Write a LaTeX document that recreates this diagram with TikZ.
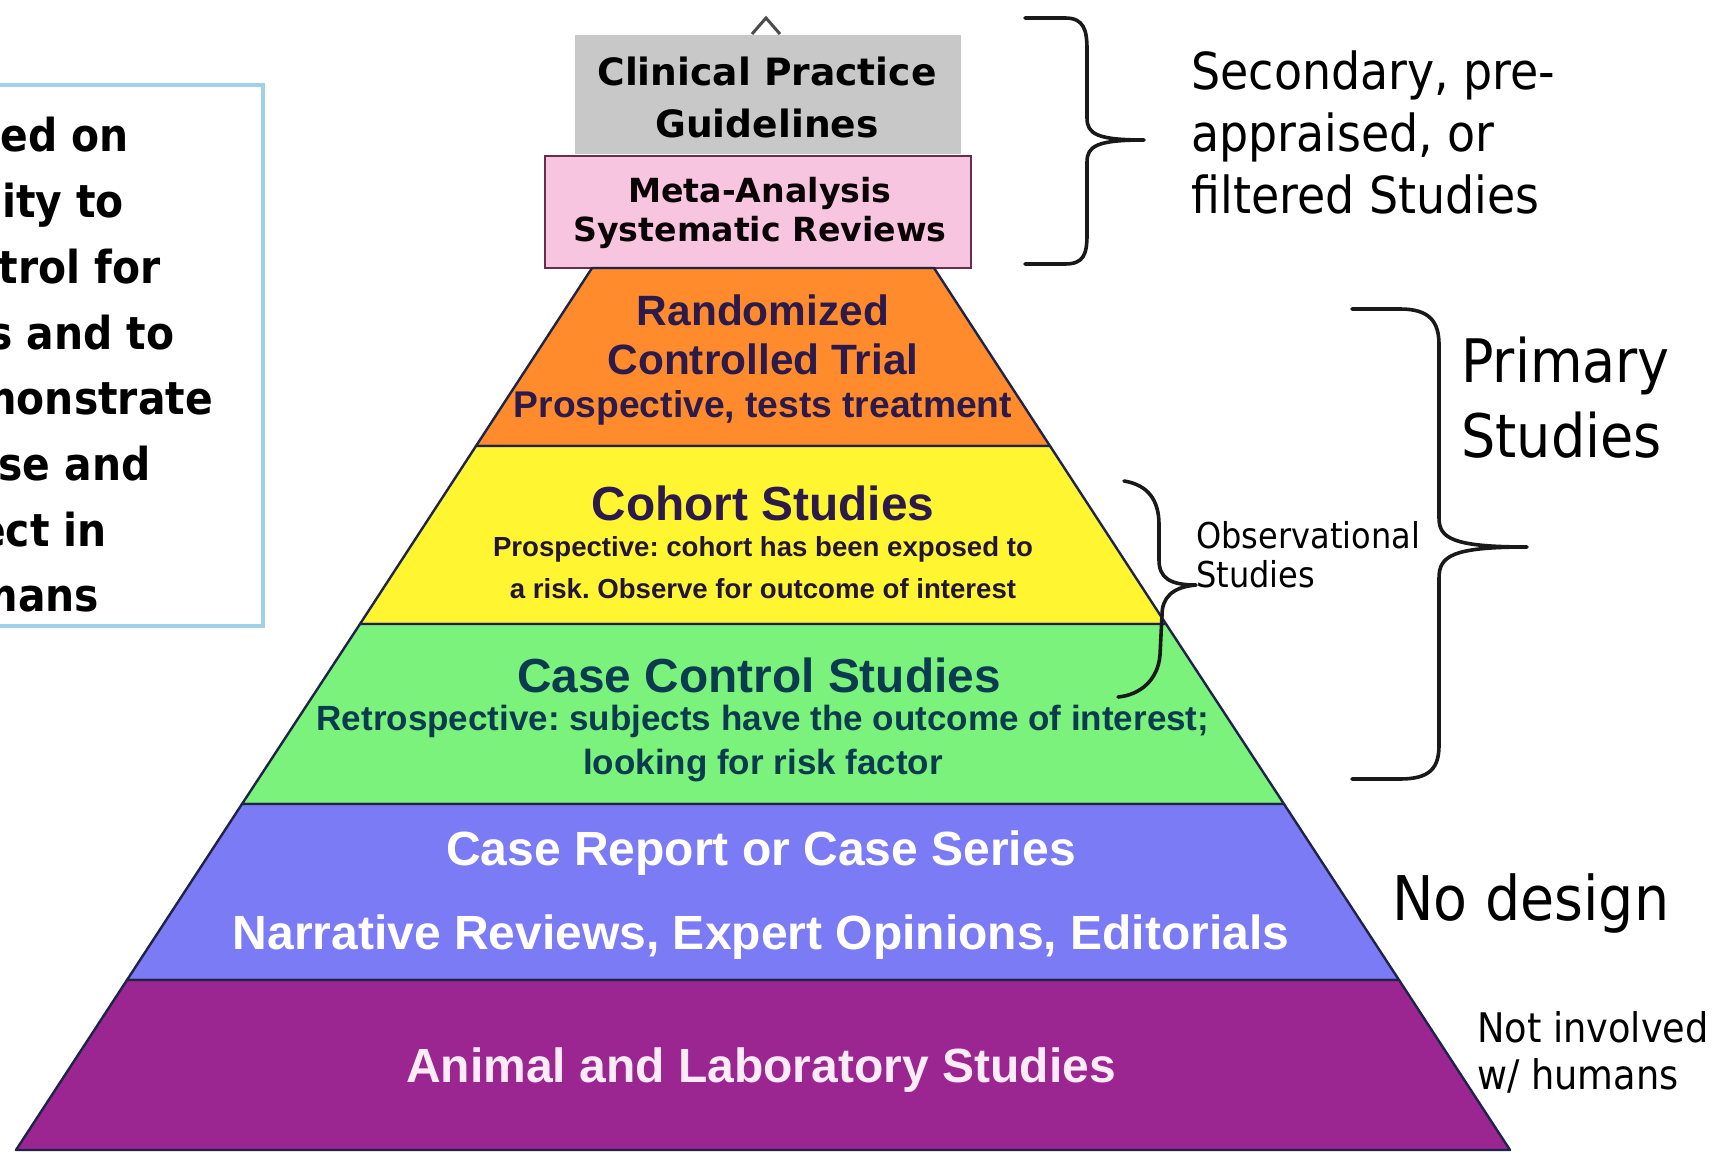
\documentclass[tikz,border=0pt]{standalone}
\usepackage{fontspec}
\setmainfont{DejaVu Sans}
\newfontfamily\condfont{DejaVu Sans Condensed}
\newfontfamily\arialfont{Liberation Sans}
\usepackage{tikz}
\usetikzlibrary{calc}
\frenchspacing

\definecolor{cpggray}{HTML}{C8C8C8}
\definecolor{metapink}{HTML}{F7C5E0}
\definecolor{pinkedge}{HTML}{6B2B4B}
\definecolor{rctorange}{HTML}{FF8B2C}
\definecolor{cohortyellow}{HTML}{FFF531}
\definecolor{ccgreen}{HTML}{7BF27B}
\definecolor{crblue}{HTML}{7B7BF6}
\definecolor{labpurple}{HTML}{9B2591}
\definecolor{layeredge}{HTML}{1E2348}
\definecolor{boxblue}{HTML}{9FD2E8}
\definecolor{rcttext}{HTML}{2B1A4A}
\definecolor{cctext}{HTML}{0B3B4E}

\begin{document}
\begin{tikzpicture}[x=0.5pt,y=-0.5pt,
    layer/.style={draw=layeredge, line width=1.2pt, line join=round},
    ptext/.style={align=center, inner sep=0pt},
    side/.style={align=left, anchor=west, inner sep=0pt, font=\condfont},
    boxline/.style={anchor=base west, inner sep=0pt,
        font=\condfont\bfseries\fontsize{22.7}{30}\selectfont},
    brace/.style={draw=black!90, line width=1.8pt, line cap=round, line join=round}]

    \fill[white] (0,0) rectangle (1716,1154);
    \useasboundingbox (0,0) rectangle (1716,1154);

    \begin{scope}
        \clip (0,0) rectangle (1716,1154);
        \draw[boxblue, line width=1.6pt] (-30,85) rectangle (263,626);
        \foreach \t [count=\i] in {Based on, ability to, control for, bias and to,
            demonstrate, cause and, effect in, humans}
            \node[boxline] (why\i) at (-83,{152+65.7*(\i-1)}) {\t};
    \end{scope}

    \draw[line width=1.5pt, black!70] (752,34) -- (766,18) -- (780,34);
    \fill[cpggray] (575,35) rectangle (961,154);
    \filldraw[fill=metapink, draw=pinkedge, line width=1pt] (545,156) rectangle (971,268);

    \coordinate (L0) at (592,268);
    \coordinate (L1) at (476,446);
    \coordinate (L2) at (360,624);
    \coordinate (L3) at (242,804);
    \coordinate (L4) at (127,980);
    \coordinate (L5) at (16,1150);
    \coordinate (R0) at (934,268);
    \coordinate (R1) at (1050,446);
    \coordinate (R2) at (1166,624);
    \coordinate (R3) at (1284,804);
    \coordinate (R4) at (1399,980);
    \coordinate (R5) at (1510,1150);

    \filldraw[layer, fill=rctorange] (L0) -- (R0) -- (R1) -- (L1) -- cycle;
    \filldraw[layer, fill=cohortyellow] (L1) -- (R1) -- (R2) -- (L2) -- cycle;
    \filldraw[layer, fill=ccgreen] (L2) -- (R2) -- (R3) -- (L3) -- cycle;
    \filldraw[layer, fill=crblue] (L3) -- (R3) -- (R4) -- (L4) -- cycle;
    \filldraw[layer, fill=labpurple] (L4) -- (R4) -- (R5) -- (L5) -- cycle;

    \node[ptext, font=\bfseries\fontsize{18.8}{26}\selectfont] (cpg) at (767,97) {Clinical Practice\\Guidelines};
    \node[ptext, text=black!90!pinkedge, font=\bfseries\fontsize{16.6}{19.5}\selectfont] (meta) at (760,213) {Meta-Analysis\\Systematic Reviews};

    \node[ptext, text=rcttext, font=\arialfont\bfseries\fontsize{21.2}{24.5}\selectfont] (rct) at (763,335) {Randomized\\Controlled Trial};
    \node[ptext, text=rcttext, font=\arialfont\bfseries\fontsize{18.6}{24.5}\selectfont] (rctsub) at (763,408) {Prospective, tests treatment};

    \node[ptext, text=rcttext, font=\arialfont\bfseries\fontsize{23.9}{28}\selectfont] (cohort) at (763,503) {Cohort Studies};
    \node[ptext, text=rcttext!80!black, font=\arialfont\bfseries\fontsize{13.8}{21}\selectfont] (cohortsub) at (763,568) {Prospective: cohort has been exposed to\\a risk. Observe for outcome of interest};

    \node[ptext, text=cctext, font=\arialfont\bfseries\fontsize{23.9}{28}\selectfont] (casectl) at (759,675) {Case Control Studies};
    \node[ptext, text=cctext, font=\arialfont\bfseries\fontsize{17.5}{22}\selectfont] (casectlsub) at (763,744) {Retrospective: subjects have the outcome of interest;\\looking for risk factor};

    \node[ptext, text=white, font=\arialfont\bfseries\fontsize{24}{28}\selectfont] (caserep) at (761,853) {Case Report or Case Series};
    \node[ptext, text=white, font=\arialfont\bfseries\fontsize{24}{28}\selectfont] (narr) at (761,937) {Narrative Reviews, Expert Opinions, Editorials};

    \node[ptext, text=white!92!magenta, font=\arialfont\bfseries\fontsize{24}{28}\selectfont] (animal) at (761,1070) {Animal and Laboratory Studies};

    \draw[brace] (1025,18) -- (1065,18) .. controls (1084,18) and (1087,30) .. (1087,50)
        -- (1087,118) .. controls (1087,134) and (1097,140) .. (1144,140)
        .. controls (1097,140) and (1087,146) .. (1087,162)
        -- (1087,234) .. controls (1087,254) and (1084,264) .. (1065,264) -- (1025,264);

    \draw[brace] (1352,309) -- (1400,309) .. controls (1430,309) and (1439,322) .. (1439,345)
        -- (1439,518) .. controls (1439,538) and (1452,547) .. (1527,547)
        .. controls (1452,547) and (1439,556) .. (1439,578)
        -- (1439,745) .. controls (1439,768) and (1430,779) .. (1400,779) -- (1352,779);

    \draw[brace] (1124,481) .. controls (1148,485) and (1159,500) .. (1159,525)
        -- (1159,560) .. controls (1159,578) and (1170,585) .. (1196,585)
        .. controls (1172,587) and (1162,598) .. (1162,615)
        -- (1160,655) .. controls (1158,680) and (1140,695) .. (1118,697);

    \node[side, font=\condfont\fontsize{25.5}{31}\selectfont] (secondary) at (1191,132) {Secondary, pre-\\appraised, or\\filtered Studies};
    \node[side, font=\condfont\fontsize{30}{37.5}\selectfont] (primary) at (1461,398) {Primary\\Studies};
    \node[side, font=\condfont\fontsize{17.8}{19.5}\selectfont] (observ) at (1196,555) {Observational\\Studies};
    \node[side, font=\condfont\fontsize{30.8}{36}\selectfont] (nodesign) at (1392,903) {No design};
    \node[side, font=\condfont\fontsize{20.4}{23.5}\selectfont] (notinv) at (1477,1052) {Not involved\\w/ humans};
\end{tikzpicture}
\end{document}
